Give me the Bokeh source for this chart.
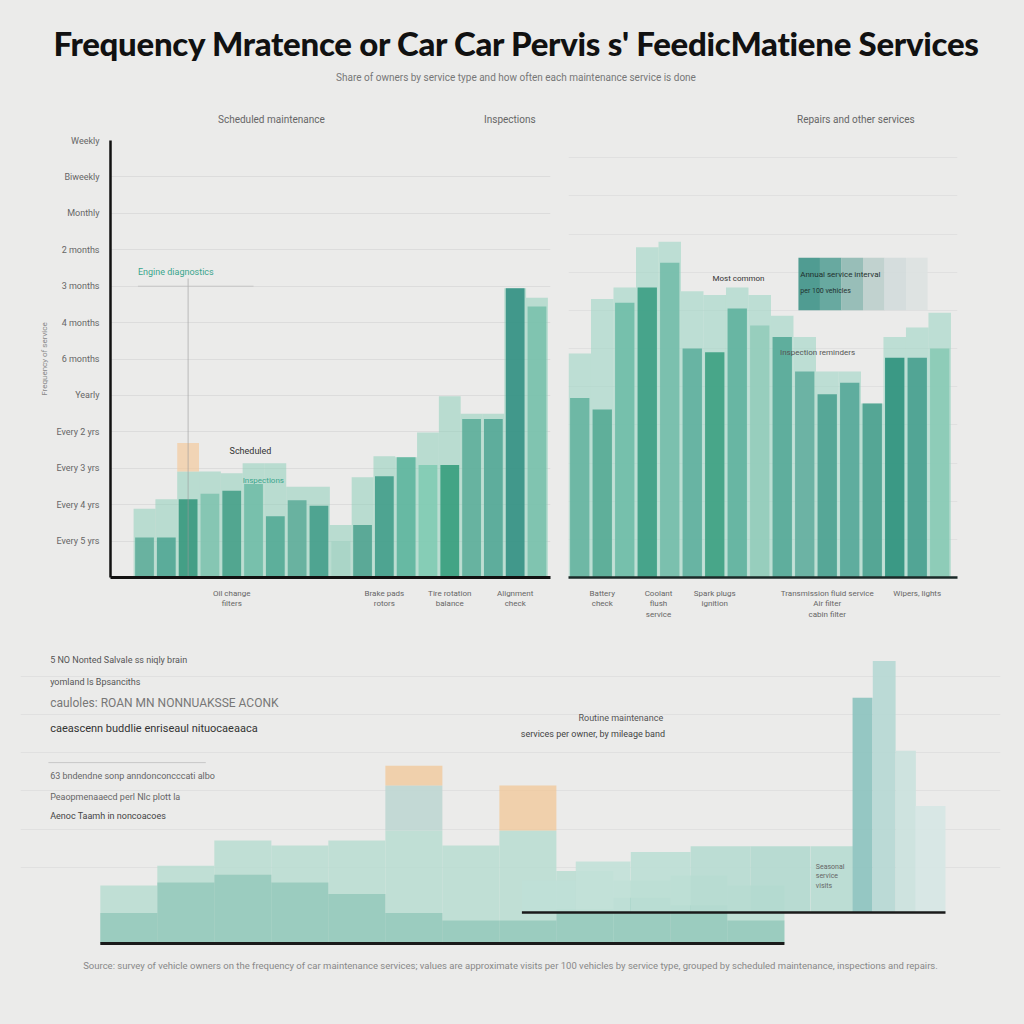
import numpy as np
from bokeh.plotting import figure
from bokeh.layouts import column, row
from bokeh.models import Div, FixedTicker, Label, Range1d, Title
from bokeh.embed import file_html
from bokeh.resources import INLINE

# ---------------------------------------------------------------- data
TITLE = "Frequency Mratence or Car Car Pervis s' FeedicMatiene Services"
SUBTITLE = "Share of owners by service type and how often each maintenance service is done"
HEAD_LEFT = "Scheduled maintenance"
HEAD_MID = "Inspections"
HEAD_RIGHT = "Repairs and other services"

# left panel: 19 service bars (value = visits per 100 cars)
left_pos = list(range(1, 20))
left_total = [18.9, 21.5, 29.1, 29.1, 28.6, 31.4, 31.4, 24.9, 24.9, 14.4,
              27.5, 33.3, 33.0, 39.8, 49.8, 45.0, 45.0, 79.4, 76.8]
left_core = [11.0, 11.0, 21.5, 23.0, 23.8, 25.7, 16.8, 21.2, 19.7, 10.0,
             14.4, 27.8, 33.0, 30.9, 30.9, 43.5, 43.5, 79.4, 74.4]
left_hl_bar = 3
left_hl_extra = 7.8
left_y_ticks = [10, 20, 30, 40, 50, 60, 70, 80, 90, 100, 110, 120]
left_y_labels = ["Every 5 yrs", "Every 4 yrs", "Every 3 yrs", "Every 2 yrs",
                 "Yearly", "6 months", "4 months", "3 months", "2 months",
                 "Monthly", "Biweekly", "Weekly"]
left_x_ticks = [5, 12, 15, 18]
left_x_labels = ["Oil change\nfilters", "Brake pads\nrotors",
                 "Tire rotation\nbalance", "Alignment\ncheck"]

# right panel: 17 service bars
right_pos = list(range(1, 18))
right_total = [58.7, 73.0, 76.0, 86.5, 88.0, 75.0, 74.0, 76.0, 74.0,
               68.6, 63.0, 54.0, 54.0, 45.6, 63.0, 65.5, 69.4]
right_core = [47.0, 44.0, 72.0, 76.0, 82.5, 60.0, 59.0, 70.5, 66.0,
              63.0, 54.0, 48.0, 51.0, 45.6, 57.6, 57.6, 60.0]
right_x_ticks = [2, 4.5, 7, 12, 16]
right_x_labels = ["Battery\ncheck", "Coolant\nflush\nservice", "Spark plugs\nignition",
                  "Transmission fluid service\nAir filter\ncabin filter", "Wipers, lights"]

# bottom panel: lower series (12) and upper series (10)
bottom_pos = list(range(1, 13))
bottom_total = [15.2, 20.4, 27.0, 25.7, 27.0, 29.6, 25.7, 29.6, 19.0, 16.5, 17.8, 15.2]
bottom_core = [8.0, 16.0, 18.0, 16.0, 13.0, 8.0, 6.0, 6.0, 9.0, 12.0, 10.0, 6.0]
bottom_peak_grey = [0, 0, 0, 0, 0, 11.8, 0, 0, 0, 0, 0, 0]
bottom_peak_orange = [0, 0, 0, 0, 0, 5.2, 0, 11.8, 0, 0, 0, 0]
upper_pos = [8.37, 9.32, 10.33, 11.38, 12.43, 13.33, 13.87, 14.25, 14.63, 15.06]
upper_total = [16.5, 21.5, 24.0, 25.5, 25.5, 25.5, 64.4, 74.0, 50.5, 36.0]
upper_base = 8.1

FOOTNOTE = ("Source: survey of vehicle owners on the frequency of car maintenance services; values are approximate "
            "visits per 100 vehicles by service type, grouped by scheduled maintenance, inspections and repairs.")

# ---------------------------------------------------------------- style
BG = "#ebebea"
FONT = "Roboto"
left_core_colors = ["#5aaa98", "#4aa390", "#2f9479", "#7cc2ae", "#3f9c85", "#6cbba6",
                    "#4ca792", "#5aaa98", "#3c9a86", "#a7d3c5", "#4aa08d", "#3b9a86",
                    "#58b39b", "#7ccab1", "#2e9a78", "#58ab98", "#4ea593", "#2b8c7f", "#76c0aa"]
right_core_colors = ["#5db09b", "#4aa58e", "#66b9a3", "#2d977b", "#6db9a6", "#55ab98",
                     "#2e9a79", "#55ad98", "#8fcab8", "#4ba391", "#5aa99a", "#3f9b8a",
                     "#4aa293", "#3e9a88", "#1f8a74", "#3a9988", "#84c8b2"]
upper_width = [0.95, 0.96, 1.05, 1.05, 1.05, 0.74, 0.35, 0.40, 0.35, 0.53]
upper_colors = ["#bfe0d7", "#c2e1d8", "#bcdfd5", "#b7dcd2", "#b3d9cf", "#b7dbd2",
                "#8cc3bf", "#b6d8d4", "#cbe2de", "#d6e7e4"]


def make_fig(w, h, xr, yr, left, right, top, bottom):
    p = figure(width=w, height=h, x_range=xr, y_range=yr, output_backend="svg",
               toolbar_location=None, background_fill_color=BG, border_fill_color=BG,
               outline_line_color=None, min_border_left=left, min_border_right=right,
               min_border_top=top, min_border_bottom=bottom)
    p.xgrid.grid_line_color = None
    p.ygrid.grid_line_color = "#dcdcdc"
    return p


def style_axis(ax, size="8px"):
    ax.major_tick_line_color = None
    ax.minor_tick_line_color = None
    ax.major_label_text_font = FONT
    ax.major_label_text_font_size = size
    ax.major_label_text_color = "#666666"


# ---------------------------------------------------------------- left panel
pl = make_fig(568, 515, Range1d(-0.56, 19.62), Range1d(0, 120), 110, 18, 7, 50)
pl.yaxis.ticker = FixedTicker(ticks=left_y_ticks)
pl.yaxis.major_label_overrides = dict(zip(left_y_ticks, left_y_labels))
style_axis(pl.yaxis[0], "9px")
pl.yaxis.axis_line_width = 2.5
pl.yaxis.axis_line_color = "#111111"
pl.yaxis.axis_label = "Frequency of service"
pl.yaxis.axis_label_text_font = FONT
pl.yaxis.axis_label_text_font_size = "8px"
pl.yaxis.axis_label_text_font_style = "normal"
pl.yaxis.axis_label_text_color = "#888888"
pl.xaxis.ticker = FixedTicker(ticks=left_x_ticks)
pl.xaxis.major_label_overrides = dict(zip(left_x_ticks, left_x_labels))
style_axis(pl.xaxis[0], "8px")
pl.xaxis.axis_line_width = 3
pl.xaxis.axis_line_color = "#111111"

pl.vbar(x=left_pos, top=left_total, width=1.0, fill_color="#8fcfba", fill_alpha=0.55, line_color=None)
pl.vbar(x=left_pos, top=left_core, width=0.86, fill_color=left_core_colors, fill_alpha=0.85, line_color=None)
hi = left_hl_bar - 1
pl.vbar(x=[left_pos[hi]], bottom=[left_total[hi]], top=[left_total[hi] + left_hl_extra],
        width=1.0, fill_color="#f4c898", fill_alpha=0.65, line_color=None)
pl.segment(x0=[left_pos[hi]], y0=[0], x1=[left_pos[hi]], y1=[max(left_total[hi] + 53, 80)],
           line_color="#999999", line_alpha=0.6, line_width=1)
pl.segment(x0=[left_pos[0] - 0.3], y0=[80], x1=[left_pos[hi] + 3.0], y1=[80],
           line_color="#bbbbbb", line_alpha=0.7, line_width=1)
pl.add_layout(Label(x=left_pos[0] - 0.3, y=84, text="Engine diagnostics", text_font=FONT,
                    text_font_size="9px", text_color="#3aa58c", text_baseline="middle"))
pl.add_layout(Label(x=left_pos[hi] + 1.9, y=left_total[hi] + 5.5, text="Scheduled", text_font=FONT,
                    text_font_size="9px", text_color="#333333", text_baseline="middle"))
pl.add_layout(Label(x=left_pos[hi] + 2.5, y=left_total[hi] - 2.5, text="Inspections", text_font=FONT,
                    text_font_size="8px", text_color="#3aa58c", text_baseline="middle"))

# ---------------------------------------------------------------- right panel
pr = make_fig(448, 515, Range1d(0.5, 17.79), Range1d(0, 114.5), 0, 59, 7, 71)
pr.yaxis.visible = False
pr.ygrid.ticker = FixedTicker(ticks=[10 * i for i in range(1, 12)])
pr.ygrid.grid_line_color = "#e0e0e0"
pr.xaxis.ticker = FixedTicker(ticks=right_x_ticks)
pr.xaxis.major_label_overrides = dict(zip(right_x_ticks, right_x_labels))
style_axis(pr.xaxis[0], "8px")
pr.xaxis.axis_line_width = 2.5
pr.xaxis.axis_line_color = "#1a2a28"

pr.vbar(x=right_pos, top=right_total, width=1.0, fill_color="#9fd6c4", fill_alpha=0.6, line_color=None)
pr.vbar(x=right_pos, top=right_core, width=0.86, fill_color=right_core_colors, fill_alpha=0.82, line_color=None)

# callout box with fading fill
fade = ["#3f9488", "#5aa298", "#8fb9b3", "#bccfcc", "#d3dcdb", "#dde2e1"]
edges = np.linspace(10.72, 16.46, len(fade) + 1)
pr.quad(left=edges[:-1], right=edges[1:], bottom=70, top=83.8, fill_color=fade,
        fill_alpha=0.9, line_color=None)
pr.add_layout(Label(x=6.9, y=78.3, text="Most common", text_font=FONT,
                    text_font_size="8px", text_color="#333333", text_baseline="middle"))
pr.add_layout(Label(x=10.8, y=79.5, text="Annual service interval", text_font=FONT,
                    text_font_size="8px", text_color="#1f302e", text_baseline="middle"))
pr.add_layout(Label(x=10.8, y=75.0, text="per 100 vehicles", text_font=FONT,
                    text_font_size="7px", text_color="#1f302e", text_baseline="middle"))
pr.add_layout(Label(x=9.9, y=59.0, text="Inspection reminders", text_font=FONT,
                    text_font_size="8px", text_color="#555555", text_baseline="middle"))

# ---------------------------------------------------------------- bottom panel
pb = make_fig(1016, 340, Range1d(-0.9, 16.29), Range1d(-0.52, 75.46), 20, 16, 7, 43)
pb.xaxis.visible = False
pb.yaxis.visible = False
pb.ygrid.ticker = FixedTicker(ticks=[10 * i for i in range(2, 8)])
pb.ygrid.grid_line_color = "#e0e0e0"

bt = np.array(bottom_total)
bg_ = np.array(bottom_peak_grey)
bo = np.array(bottom_peak_orange)
pb.vbar(x=bottom_pos, top=bottom_total, width=1.0, fill_color="#b5dccf", fill_alpha=0.8, line_color=None)
pb.vbar(x=bottom_pos, top=bottom_core, width=1.0, fill_color="#6fb5a3", fill_alpha=0.45, line_color=None)
pb.vbar(x=bottom_pos, bottom=bt, top=bt + bg_, width=1.0, fill_color="#bcd6d1", fill_alpha=0.85, line_color=None)
pb.vbar(x=bottom_pos, bottom=bt + bg_, top=bt + bg_ + bo, width=1.0, fill_color="#f2c592",
        fill_alpha=0.7, line_color=None)
pb.vbar(x=upper_pos, bottom=upper_base, top=upper_total, width=upper_width, fill_color=upper_colors,
        fill_alpha=0.9, line_color=None)
pb.segment(x0=[bottom_pos[0] - 0.5], y0=[0], x1=[bottom_pos[-1] + 0.5], y1=[0],
           line_color="#1a1a1a", line_width=3)
pb.segment(x0=[upper_pos[0] - upper_width[0] / 2], y0=[upper_base],
           x1=[upper_pos[-1] + upper_width[-1] / 2], y1=[upper_base],
           line_color="#1a1a1a", line_width=2.5)

notes = [
    (74.4, "5 NO Nonted Salvale ss niqly brain", "9px", "#555555"),
    (68.4, "yomland ls Bpsanciths", "9px", "#555555"),
    (62.9, "cauloles: ROAN MN NONNUAKSSE ACONK", "12px", "#777777"),
    (56.3, "caeascenn buddlie enriseaul nituocaeaaca", "11px", "#333333"),
    (43.8, "63 bndendne sonp anndonconcccati albo", "9px", "#666666"),
    (38.3, "Peaopmenaaecd perl Nlc plott la", "9px", "#666666"),
    (33.3, "Aenoc Taamh in noncoacoes", "9px", "#444444"),
]
for yv, txt, fs, col in notes:
    pb.add_layout(Label(x=-0.38, y=yv, text=txt, text_font=FONT, text_font_size=fs,
                        text_color=col, text_baseline="middle"))
pb.segment(x0=[-0.41], y0=[47.4], x1=[2.35], y1=[47.4], line_color="#c8c8c8", line_width=1)
pb.add_layout(Label(x=9.63, y=59.2, text="Routine maintenance", text_font=FONT, text_font_size="9px",
                    text_color="#555555", text_align="center", text_baseline="middle"))
pb.add_layout(Label(x=9.14, y=55.0, text="services per owner, by mileage band", text_font=FONT,
                    text_font_size="9px", text_color="#444444", text_align="center", text_baseline="middle"))
pb.add_layout(Label(x=13.05, y=17.6, text="Seasonal\nservice\nvisits", text_font=FONT, text_font_size="7px",
                    text_color="#666666", text_baseline="middle"))
pb.add_layout(Title(text=FOOTNOTE, text_font=FONT, text_font_size="9.5px", text_color="#888888",
                    text_font_style="normal", align="center", standoff=24), "below")

# ---------------------------------------------------------------- header
header_html = f"""
<div style="position:relative;width:1016px;height:133px;background:{BG};font-family:Lato, sans-serif;">
  <div style="position:absolute;left:0;top:20px;width:1032px;text-align:center;font-size:33px;
              font-weight:900;color:#111;letter-spacing:-0.3px;white-space:nowrap;">{TITLE}</div>
  <div style="position:absolute;left:0;top:71px;width:1032px;text-align:center;font-size:10px;
              color:#777;font-family:Roboto, sans-serif;">{SUBTITLE}</div>
  <div style="position:absolute;left:218px;top:113px;font-size:10px;color:#666;font-family:Roboto, sans-serif;">{HEAD_LEFT}</div>
  <div style="position:absolute;left:484px;top:113px;font-size:10px;color:#666;font-family:Roboto, sans-serif;">{HEAD_MID}</div>
  <div style="position:absolute;left:797px;top:113px;font-size:10px;color:#666;font-family:Roboto, sans-serif;">{HEAD_RIGHT}</div>
</div>
"""
head = Div(text=header_html, width=1016, height=133, margin=(0, 0, 0, 0))

layout = column(head, row(pl, pr, spacing=0), pb, spacing=0)

html = file_html(layout, INLINE)
html = html.replace("</head>", f"<style>html, body {{ background: {BG} !important; }}</style></head>", 1)
open("out.html", "w").write(html)
